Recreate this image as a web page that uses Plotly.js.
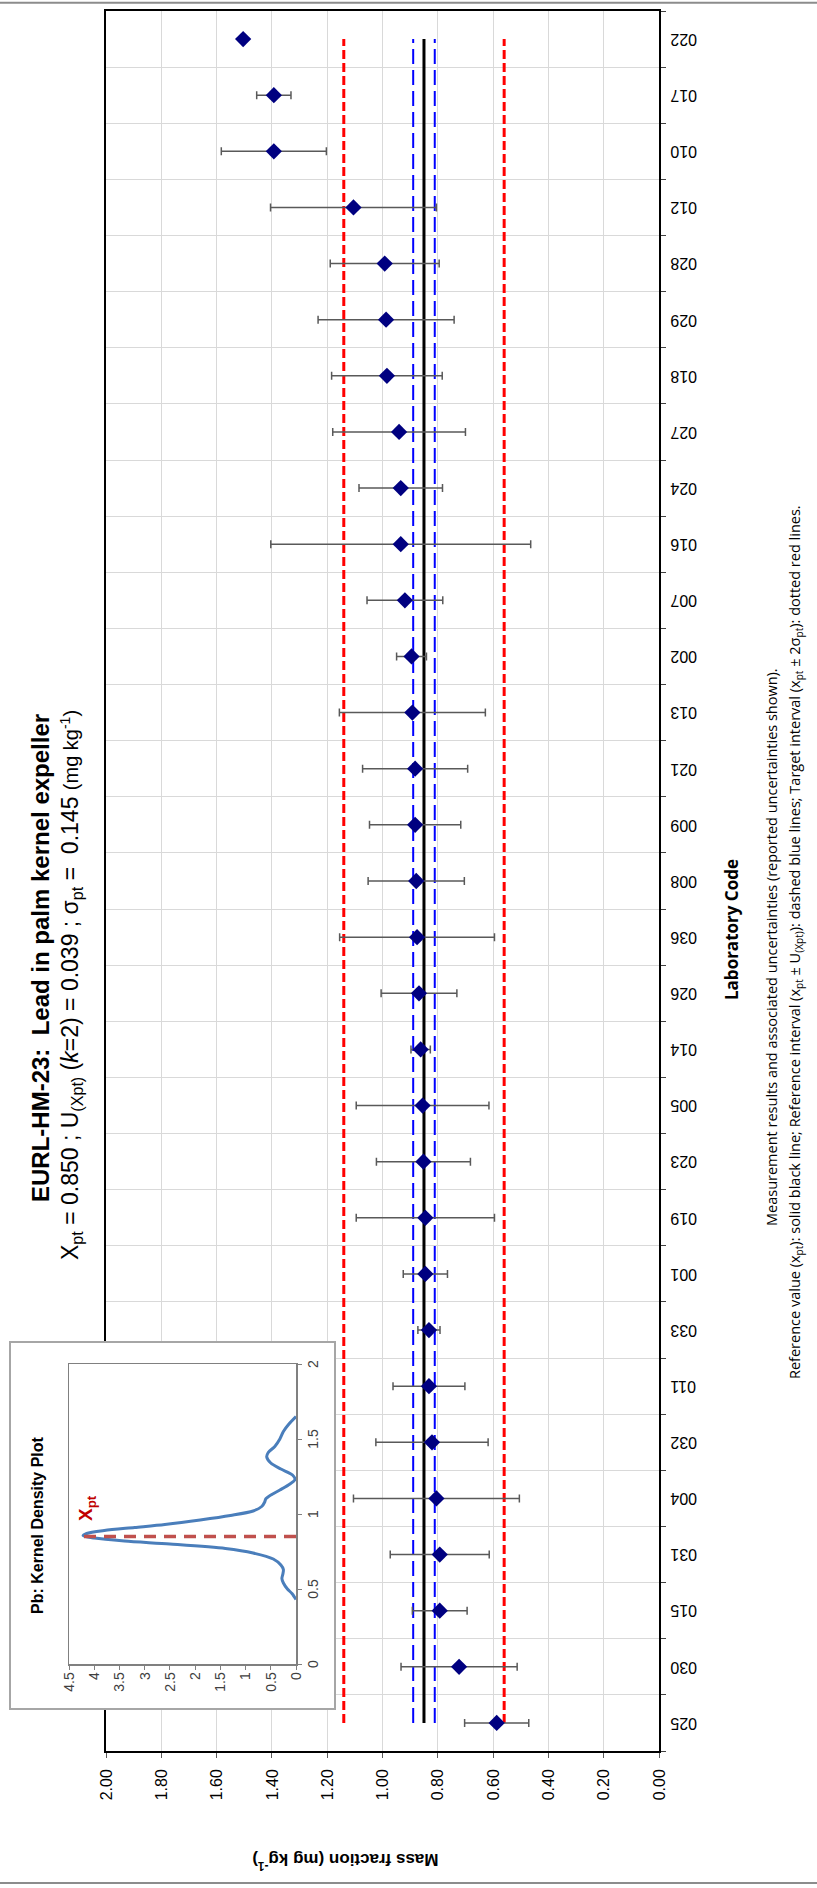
<!DOCTYPE html>
<html><head><meta charset="utf-8">
<script src="https://cdn.plot.ly/plotly-3.0.1.min.js"></script>
<style>
html,body{margin:0;padding:0;width:817px;height:1888px;overflow:hidden;background:#fff;}
#wrap{position:absolute;left:0;top:0;width:1888px;height:817px;transform-origin:0 0;transform:translateY(1888px) rotate(-90deg);}
#main{position:absolute;left:0;top:0;width:1888px;height:817px;}
#inset{position:absolute;left:178px;top:9px;width:369px;height:327px;}
</style></head><body>
<div id="wrap"><div id="main"></div><div id="inset"></div></div>
<script>
// ---- data ----
const labCodes = ['025','030','015','031','004','032','011','033','001','019','023','005','014','026','036','008','009','021','013','002','007','016','024','027','018','029','028','012','010','017','022'];
const massFraction = [0.587,0.723,0.793,0.793,0.805,0.821,0.832,0.832,0.845,0.845,0.852,0.855,0.862,0.868,0.875,0.878,0.882,0.882,0.892,0.895,0.919,0.934,0.934,0.940,0.984,0.987,0.992,1.105,1.393,1.393,1.504];
const uncertainty = [0.116,0.210,0.099,0.179,0.300,0.203,0.130,0.040,0.080,0.250,0.170,0.240,0.035,0.137,0.280,0.174,0.165,0.190,0.264,0.054,0.137,0.470,0.151,0.240,0.200,0.246,0.197,0.300,0.190,0.062,null];
const xpt = 0.850, Uxpt = 0.039, sigmaPt = 0.145;
const kdeX = [0.43,0.47,0.50,0.54,0.57,0.60,0.63,0.66,0.70,0.74,0.77,0.80,0.82,0.84,0.855,0.87,0.89,0.91,0.93,0.96,0.99,1.02,1.05,1.08,1.10,1.13,1.16,1.20,1.23,1.26,1.30,1.34,1.38,1.41,1.45,1.50,1.55,1.60,1.65];
const kdeY = [0,0.08,0.17,0.25,0.28,0.26,0.25,0.30,0.45,0.85,1.40,2.50,3.40,4.00,4.22,4.15,3.80,3.20,2.60,1.90,1.30,0.85,0.68,0.62,0.60,0.48,0.32,0.12,0.02,0.07,0.30,0.50,0.58,0.55,0.42,0.32,0.25,0.14,0];
const xptLineTop = 4.22;
const insetXTicks = [0,0.5,1,1.5,2];

// ---- geometry (landscape, later rotated) ----
const W = 1888, H = 817, L = 137, R = 11, T = 106, B = 158;
const PW = W - L - R, PH = H - T - B;
const px = X => (X - L) / PW;
const py = Y => (H - B - Y) / PH;

const first = labCodes[0], last = labCodes[labCodes.length - 1];
const hline = (v, color, width, dash) => ({
  x: [first, last], y: [v, v], mode: 'lines', hoverinfo: 'skip', showlegend: false,
  line: {color: color, width: width, dash: dash}
});

const mainTraces = [
  hline(xpt + 2 * sigmaPt, '#ff0000', 3, '9px,4px'),
  hline(xpt - 2 * sigmaPt, '#ff0000', 3, '9px,4px'),
  hline(xpt + Uxpt, '#0000ff', 2, '15px,6px'),
  hline(xpt - Uxpt, '#0000ff', 2, '15px,6px'),
  hline(xpt, '#000000', 3, 'solid'),
  {
    x: labCodes, y: massFraction, mode: 'markers', showlegend: false,
    marker: {symbol: 'diamond', size: 12.5, color: '#000080'},
    error_y: {type: 'data', array: uncertainty, visible: true, color: '#595959', thickness: 1.5, width: 4}
  }
];

const ARIAL = 'Liberation Sans, Arial, sans-serif';
const OPEN = 'Open Sans, sans-serif';

const mainLayout = {
  width: W, height: H,
  margin: {l: L, r: R, t: T, b: B, pad: 0},
  paper_bgcolor: '#ffffff', plot_bgcolor: '#ffffff',
  showlegend: false,
  xaxis: {
    type: 'category', categoryorder: 'array', categoryarray: labCodes,
    range: [-0.5, labCodes.length - 0.5], tickson: 'boundaries',
    ticks: 'outside', ticklen: 5, tickcolor: '#404040', tickwidth: 1,
    tickangle: -90, ticklabelstandoff: 3,
    showgrid: true, gridcolor: '#d9d9d9', gridwidth: 1,
    showline: true, linecolor: '#000000', linewidth: 2, mirror: true,
    tickfont: {family: ARIAL, size: 16, color: '#000000'}, fixedrange: true
  },
  yaxis: {
    range: [0, 2], tick0: 0, dtick: 0.2, tickformat: '.2f',
    ticks: 'outside', ticklen: 5, tickcolor: '#595959', ticklabelstandoff: 8,
    showgrid: true, gridcolor: '#d9d9d9', gridwidth: 1, zeroline: false,
    showline: true, linecolor: '#000000', linewidth: 2, mirror: true,
    tickfont: {family: ARIAL, size: 16, color: '#000000'}, fixedrange: true
  },
  annotations: [
    {xref: 'paper', yref: 'paper', x: px(930), y: py(41), xanchor: 'center', yanchor: 'middle', showarrow: false,
     text: '<b>EURL-HM-23:  Lead in palm kernel expeller</b>', font: {family: ARIAL, size: 24, color: '#000'}},
    {xref: 'paper', yref: 'paper', x: px(903), y: py(72), xanchor: 'center', yanchor: 'middle', showarrow: false,
     text: 'X<sub>pt</sub> = 0.850 ; U<sub>(Xpt)</sub> (<i>k</i>=2) = 0.039 ; σ<sub>pt</sub> =  0.145 <span style="font-size:20px">(mg kg<sup>-1</sup>)</span>',
     font: {family: ARIAL, size: 23, color: '#000'}},
    {xref: 'paper', yref: 'paper', x: px(26.5), y: py(346), xanchor: 'center', yanchor: 'middle', showarrow: false, textangle: -90,
     text: '<b>Mass fraction (mg kg<sup>-1</sup>)</b>', font: {family: ARIAL, size: 17, color: '#000'}},
    {xref: 'paper', yref: 'paper', x: px(958), y: py(731), xanchor: 'center', yanchor: 'middle', showarrow: false,
     text: '<b>Laboratory Code</b>', font: {family: OPEN, size: 17, color: '#000'}},
    {xref: 'paper', yref: 'paper', x: px(941), y: py(771), xanchor: 'center', yanchor: 'middle', showarrow: false,
     text: 'Measurement results and associated uncertainties (reported uncertainties shown).', font: {family: OPEN, size: 14.5, color: '#000'}},
    {xref: 'paper', yref: 'paper', x: px(946), y: py(795), xanchor: 'center', yanchor: 'middle', showarrow: false,
     text: 'Reference value (x<sub>pt</sub>): solid black line; Reference interval (x<sub>pt</sub> ± U<sub>(Xpt)</sub>): dashed blue lines; Target interval (x<sub>pt</sub> ± 2σ<sub>pt</sub>): dotted red lines.',
     font: {family: OPEN, size: 14.5, color: '#000'}}
  ],
  shapes: [
    {type: 'line', xref: 'paper', yref: 'paper', x0: px(5), x1: px(5), y0: py(H), y1: py(0), line: {color: '#8c8c8c', width: 2}},
    {type: 'line', xref: 'paper', yref: 'paper', x0: px(1885.3), x1: px(1885.3), y0: py(H), y1: py(0), line: {color: '#8c8c8c', width: 2}}
  ]
};

Plotly.newPlot('main', mainTraces, mainLayout, {staticPlot: true, displayModeBar: false});

// ---- inset: kernel density plot ----
const IW = 369, IH = 327, IL = 46, IR = 23, IT = 60, IB = 40;
const IPW = IW - IL - IR, IPH = IH - IT - IB;
const insetTraces = [
  {x: kdeX, y: kdeY, mode: 'lines', line: {color: '#4a7ebb', width: 3, shape: 'spline', smoothing: 0.8}, showlegend: false},
  {x: [xpt, xpt], y: [0, xptLineTop], mode: 'lines', line: {color: '#c0504d', width: 3.5, dash: '12px,8px'}, showlegend: false}
];
const axInset = {
  ticks: 'outside', ticklen: 4, tickcolor: '#808080', showgrid: false, zeroline: false,
  showline: true, mirror: true, linecolor: '#808080', linewidth: 1.5,
  tickfont: {family: ARIAL, size: 14, color: '#404040'}, fixedrange: true
};
const insetLayout = {
  width: IW, height: IH, margin: {l: IL, r: IR, t: IT, b: IB, pad: 0},
  paper_bgcolor: '#ffffff', plot_bgcolor: '#ffffff', showlegend: false,
  xaxis: Object.assign({}, axInset, {range: [0, 2], tickvals: insetXTicks, tickangle: 0}),
  yaxis: Object.assign({}, axInset, {range: [0, 4.5], dtick: 0.5, tick0: 0}),
  annotations: [
    {xref: 'paper', yref: 'paper', x: (185 - IL) / IPW, y: 1 + (IT - 28) / IPH, xanchor: 'center', yanchor: 'middle', showarrow: false,
     text: '<b>Pb: Kernel Density Plot</b>', font: {family: ARIAL, size: 16, color: '#000'}},
    {xref: 'x', yref: 'y', x: 0.94, y: 4.15, xanchor: 'left', yanchor: 'middle', showarrow: false,
     text: '<b>X<sub>pt</sub></b>', font: {family: ARIAL, size: 19, color: '#c00000'}}
  ],
  shapes: [
    {type: 'rect', xref: 'paper', yref: 'paper', x0: (-IL + 1) / IPW, x1: 1 + (IR - 1) / IPW, y0: (-IB + 1) / IPH, y1: 1 + (IT - 1) / IPH,
     line: {color: '#a6a6a6', width: 2}, fillcolor: 'rgba(0,0,0,0)'}
  ]
};
Plotly.newPlot('inset', insetTraces, insetLayout, {staticPlot: true, displayModeBar: false});
</script>
</body></html>
